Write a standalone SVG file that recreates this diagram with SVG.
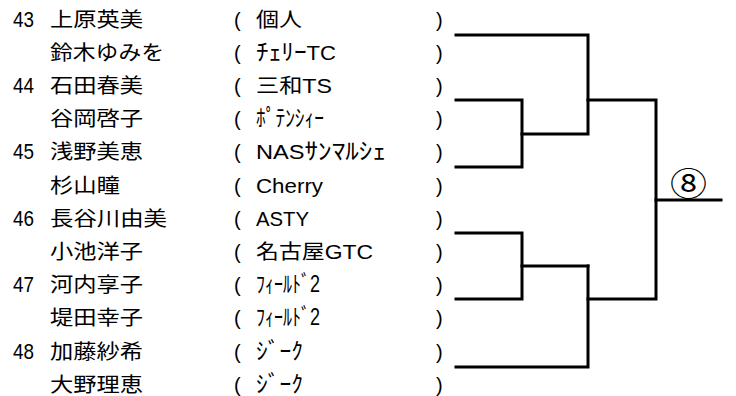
<svg xmlns="http://www.w3.org/2000/svg" width="736" height="396" viewBox="0 0 736 396">
<style>
text{font-family:"Liberation Sans","Noto Sans CJK JP",sans-serif;font-size:20px;fill:#000}
.n{font-size:22px}
.k{font-size:23px}
.c{fill:none;stroke:#000;stroke-width:3;stroke-linejoin:miter;stroke-linecap:square}
</style>
<rect width="736" height="396" fill="#fff"/>
<g id="p1"><text class="n" x="13" y="26.5" textLength="21" lengthAdjust="spacingAndGlyphs">43</text><text x="50" y="26.5" textLength="93" lengthAdjust="spacingAndGlyphs">上原英美</text><text x="234" y="26.5">(</text><text x="256" y="26.5" textLength="46" lengthAdjust="spacingAndGlyphs">個人</text><text x="436" y="26.5">)</text></g>
<g id="p2"><text x="50" y="59.7" textLength="114" lengthAdjust="spacingAndGlyphs">鈴木ゆみを</text><text x="234" y="59.7">(</text><text x="256" y="59.7" textLength="80" lengthAdjust="spacingAndGlyphs"><tspan class="k">ﾁｪﾘｰ</tspan>TC</text><text x="436" y="59.7">)</text></g>
<g id="p3"><text class="n" x="13" y="92.9" textLength="21" lengthAdjust="spacingAndGlyphs">44</text><text x="50" y="92.9" textLength="93" lengthAdjust="spacingAndGlyphs">石田春美</text><text x="234" y="92.9">(</text><text x="256" y="92.9" textLength="76" lengthAdjust="spacingAndGlyphs">三和TS</text><text x="436" y="92.9">)</text></g>
<g id="p4"><text x="50" y="126.1" textLength="93" lengthAdjust="spacingAndGlyphs">谷岡啓子</text><text x="234" y="126.1">(</text><text class="k" x="256" y="126.1" textLength="68" lengthAdjust="spacingAndGlyphs">ﾎﾟﾃﾝｼｨｰ</text><text x="436" y="126.1">)</text></g>
<g id="p5"><text class="n" x="13" y="159.3" textLength="21" lengthAdjust="spacingAndGlyphs">45</text><text x="50" y="159.3" textLength="93" lengthAdjust="spacingAndGlyphs">浅野美恵</text><text x="234" y="159.3">(</text><text x="256" y="159.3" textLength="130" lengthAdjust="spacingAndGlyphs">NAS<tspan class="k">ｻﾝﾏﾙｼｪ</tspan></text><text x="436" y="159.3">)</text></g>
<g id="p6"><text x="50" y="192.5" textLength="70" lengthAdjust="spacingAndGlyphs">杉山瞳</text><text x="234" y="192.5">(</text><text x="256" y="192.5" textLength="67" lengthAdjust="spacingAndGlyphs">Cherry</text><text x="436" y="192.5">)</text></g>
<g id="p7"><text class="n" x="13" y="225.7" textLength="21" lengthAdjust="spacingAndGlyphs">46</text><text x="50" y="225.7" textLength="117" lengthAdjust="spacingAndGlyphs">長谷川由美</text><text x="234" y="225.7">(</text><text x="256" y="225.7" textLength="53" lengthAdjust="spacingAndGlyphs">ASTY</text><text x="436" y="225.7">)</text></g>
<g id="p8"><text x="50" y="258.9" textLength="93" lengthAdjust="spacingAndGlyphs">小池洋子</text><text x="234" y="258.9">(</text><text x="256" y="258.9" textLength="117" lengthAdjust="spacingAndGlyphs">名古屋GTC</text><text x="436" y="258.9">)</text></g>
<g id="p9"><text class="n" x="13" y="292.1" textLength="21" lengthAdjust="spacingAndGlyphs">47</text><text x="50" y="292.1" textLength="93" lengthAdjust="spacingAndGlyphs">河内享子</text><text x="234" y="292.1">(</text><text class="k" x="256" y="292.1" textLength="64" lengthAdjust="spacingAndGlyphs">ﾌｨｰﾙﾄﾞ2</text><text x="436" y="292.1">)</text></g>
<g id="p10"><text x="50" y="325.3" textLength="93" lengthAdjust="spacingAndGlyphs">堤田幸子</text><text x="234" y="325.3">(</text><text class="k" x="256" y="325.3" textLength="64" lengthAdjust="spacingAndGlyphs">ﾌｨｰﾙﾄﾞ2</text><text x="436" y="325.3">)</text></g>
<g id="p11"><text class="n" x="13" y="358.5" textLength="21" lengthAdjust="spacingAndGlyphs">48</text><text x="50" y="358.5" textLength="93" lengthAdjust="spacingAndGlyphs">加藤紗希</text><text x="234" y="358.5">(</text><text class="k" x="256" y="358.5" textLength="47" lengthAdjust="spacingAndGlyphs">ｼﾞｰｸ</text><text x="436" y="358.5">)</text></g>
<g id="p12"><text x="50" y="391.7" textLength="93" lengthAdjust="spacingAndGlyphs">大野理恵</text><text x="234" y="391.7">(</text><text class="k" x="256" y="391.7" textLength="47" lengthAdjust="spacingAndGlyphs">ｼﾞｰｸ</text><text x="436" y="391.7">)</text></g>
<g id="winner"><text x="670" y="196" style="font-size:33px" textLength="37" lengthAdjust="spacingAndGlyphs">⑧</text></g>
<g id="connectors">
<path class="c" d="M456,35 H588 V134 H522"/>
<path class="c" d="M456,100 H522 V167 H456"/>
<path class="c" d="M588,100 H656 V299 H588"/>
<path class="c" d="M656,200 H721"/>
<path class="c" d="M456,233 H522 V299 H456"/>
<path class="c" d="M522,266 H588"/>
<path class="c" d="M588,266 V367 H456"/>
</g>
</svg>
